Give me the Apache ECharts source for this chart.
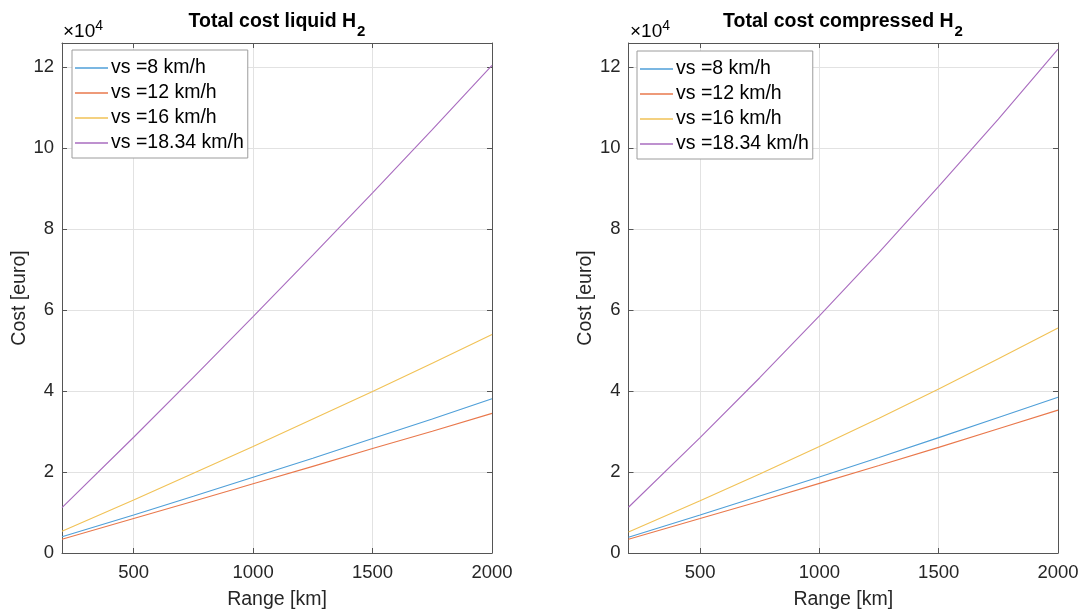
<!DOCTYPE html>
<html>
<head>
<meta charset="utf-8">
<title>Total cost H2</title>
<script src="https://cdn.jsdelivr.net/npm/echarts@6/dist/echarts.min.js"></script>
<style>
    html, body { margin: 0; padding: 0; background: #fff; }
    #chart { width: 1083px; height: 615px; }
</style>
</head>
<body>
<div id="chart"></div>
<script>
//range [km]
var rangeKm = [200, 500, 750, 1000, 1250, 1500, 1750, 2000];
var speedNames = ['vs =8 km/h', 'vs =12 km/h', 'vs =16 km/h', 'vs =18.34 km/h'];
//total cost liquid H2 [euro]
var liquidVs8 = [4000, 9400, 14000, 18700, 23400, 28300, 33100, 38100];
var liquidVs12 = [3400, 8500, 12800, 17100, 21400, 25800, 30100, 34500];
var liquidVs16 = [5400, 13100, 19700, 26300, 33100, 39900, 46900, 54000];
var liquidVs1834 = [11200, 28600, 43400, 58400, 73600, 89000, 104600, 120500];
//total cost compressed H2 [euro]
var compVs8 = [3900, 9400, 14100, 18800, 23600, 28500, 33500, 38500];
var compVs12 = [3400, 8500, 12800, 17200, 21600, 26100, 30700, 35300];
var compVs16 = [5200, 12900, 19500, 26300, 33300, 40500, 48000, 55600];
var compVs1834 = [11300, 28500, 43300, 58600, 74300, 90600, 107200, 124500];
//tick labels
var xTicks = [500, 1000, 1500, 2000];
var yTicks = [0, 20000, 40000, 60000, 80000, 100000, 120000];

var lineColors = ['#4f9fd8', '#e9784c', '#f1c256', '#a96cbf'];
var fontName = 'Liberation Sans';
var axisColor = '#555555';
var textColor = '#262626';

var costChartManager = {
    initPage: function () {
        var myChart = echarts.init(document.getElementById('chart'), null, { renderer: 'canvas' });
        var option = {
            animation: false,
            backgroundColor: '#ffffff',
            textStyle: { fontFamily: fontName },
            title: [
                costChartManager.makeTitle('Total cost liquid H', 277),
                costChartManager.makeTitle('Total cost compressed H', 843)
            ],
            legend: [
                costChartManager.makeLegend(72, 50),
                costChartManager.makeLegend(637, 51)
            ],
            grid: [
                { left: 62, right: 591, top: 43, bottom: 60 },
                { left: 628.5, right: 25, top: 43, bottom: 60 }
            ],
            xAxis: [
                costChartManager.makeXAxis(0, true),
                costChartManager.makeXAxis(0, false),
                costChartManager.makeXAxis(1, true),
                costChartManager.makeXAxis(1, false)
            ],
            yAxis: [
                costChartManager.makeYAxis(0, true),
                costChartManager.makeYAxis(0, false),
                costChartManager.makeYAxis(1, true),
                costChartManager.makeYAxis(1, false)
            ],
            graphic: [
                costChartManager.makeExponent(63),
                costChartManager.makeExponent(630)
            ],
            series: []
        };
        var liquid = [liquidVs8, liquidVs12, liquidVs16, liquidVs1834];
        var comp = [compVs8, compVs12, compVs16, compVs1834];
        for (var i = 0; i < speedNames.length; i++) {
            option.series.push(costChartManager.makeSeries(i, liquid[i], 0));
        }
        for (var j = 0; j < speedNames.length; j++) {
            option.series.push(costChartManager.makeSeries(j, comp[j], 2));
        }
        myChart.setOption(option);
    },
    makeTitle: function (text, centerX) {
        return {
            text: '{a|' + text + '}{s|2}',
            left: centerX,
            top: 19,
            textAlign: 'center',
            padding: 0,
            textStyle: {
                rich: {
                    a: { fontFamily: fontName, fontSize: 19.5, fontWeight: 'bold', color: '#000', lineHeight: 20, verticalAlign: 'bottom', padding: [0, 0, 7, 0] },
                    s: { fontFamily: fontName, fontSize: 15, fontWeight: 'bold', color: '#000', lineHeight: 15, verticalAlign: 'bottom', padding: [0, 0, 0, 1] }
                }
            }
        };
    },
    makeLegend: function (left, top) {
        return {
            left: left,
            top: top,
            orient: 'vertical',
            data: speedNames,
            icon: 'rect',
            itemWidth: 33,
            itemHeight: 1.4,
            itemGap: 5,
            padding: [8, 4, 5, 3],
            backgroundColor: '#ffffff',
            borderColor: '#9c9c9c',
            borderWidth: 1,
            textStyle: { fontFamily: fontName, fontSize: 19.5, color: '#000', lineHeight: 20, padding: [0, 0, 0, -2] }
        };
    },
    //坐标轴: main 带刻度标签, 另一条只画边框
    makeXAxis: function (gridIndex, main) {
        return {
            type: 'value',
            gridIndex: gridIndex,
            position: main ? 'bottom' : 'top',
            min: 200,
            max: 2000,
            name: main ? 'Range [km]' : '',
            nameLocation: 'middle',
            nameGap: 37,
            nameTextStyle: { fontFamily: fontName, fontSize: 19.5, color: textColor },
            axisLine: { show: true, onZero: false, lineStyle: { color: axisColor, width: 1 } },
            axisTick: { show: true, inside: true, length: 5, customValues: xTicks, lineStyle: { color: axisColor } },
            axisLabel: {
                show: main,
                customValues: xTicks,
                margin: 10,
                fontFamily: fontName,
                fontSize: 18.5,
                color: textColor,
                formatter: function (value) {
                    return String(value);
                }
            },
            splitLine: { show: main, lineStyle: { color: '#e2e2e2', width: 1 } }
        };
    },
    makeYAxis: function (gridIndex, main) {
        return {
            type: 'value',
            gridIndex: gridIndex,
            position: main ? 'left' : 'right',
            min: 0,
            max: 126000,
            name: main ? 'Cost [euro]' : '',
            nameLocation: 'middle',
            nameGap: 28,
            nameTextStyle: { fontFamily: fontName, fontSize: 19.5, color: textColor },
            axisLine: { show: true, onZero: false, lineStyle: { color: axisColor, width: 1 } },
            axisTick: { show: true, inside: true, length: 5, customValues: yTicks, lineStyle: { color: axisColor } },
            axisLabel: {
                show: main,
                customValues: yTicks,
                margin: 8,
                fontFamily: fontName,
                fontSize: 18.5,
                color: textColor,
                formatter: function (value) {
                    return String(value / 10000);
                }
            },
            splitLine: { show: main, lineStyle: { color: '#e2e2e2', width: 1 } }
        };
    },
    //×10^4
    makeExponent: function (left) {
        return {
            type: 'text',
            left: left,
            top: 19,
            style: {
                text: '{a|×10}{b|4}',
                rich: {
                    a: { fontFamily: fontName, fontSize: 19, lineHeight: 19, color: '#404040', verticalAlign: 'bottom' },
                    b: { fontFamily: fontName, fontSize: 14, lineHeight: 14, color: '#404040', verticalAlign: 'bottom', padding: [0, 0, 8, 0] }
                }
            }
        };
    },
    makeSeries: function (index, values, axisIndex) {
        var points = [];
        for (var k = 0; k < rangeKm.length; k++) {
            points.push([rangeKm[k], values[k]]);
        }
        return {
            name: speedNames[index],
            type: 'line',
            xAxisIndex: axisIndex,
            yAxisIndex: axisIndex,
            symbol: 'none',
            showSymbol: false,
            color: lineColors[index],
            lineStyle: { width: 1.1, color: lineColors[index] },
            data: points
        };
    }
};

costChartManager.initPage();
</script>
</body>
</html>
